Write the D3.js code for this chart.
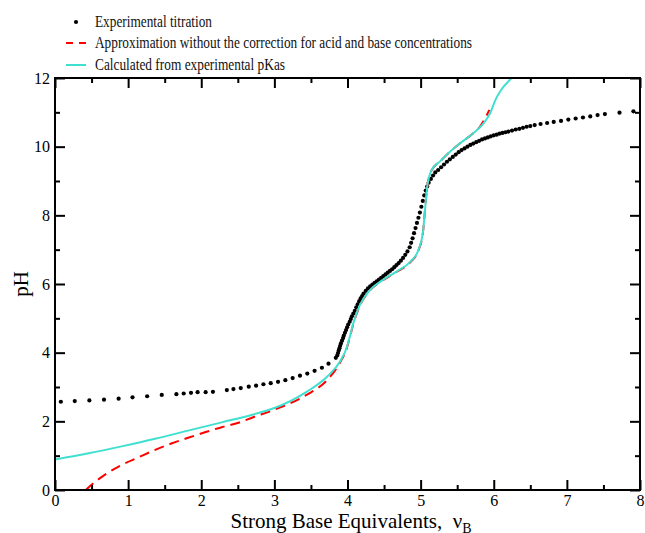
<!DOCTYPE html>
<html>
<head>
<meta charset="utf-8">
<script src="https://cdn.jsdelivr.net/npm/d3@7"></script>
<style>
  body { margin: 0; background: #fff; overflow: hidden; }
  svg { display: block; font-family: "Liberation Serif", "Times New Roman", serif; }
</style>
</head>
<body>
<svg width="645" height="533"></svg>
<script>
// experimental titration points (base equivalents, pH)
var expV = [0.08,0.27,0.47,0.67,0.87,1.06,1.26,1.46,1.66,1.76,1.86,1.95,2.06,2.16,2.35,2.44,2.54,2.65,2.75,2.85,2.95,3.05,3.15,3.25,3.35,3.45,3.55,3.65,3.74,3.84,
  3.86,3.87,3.88,3.89,3.90,3.91,3.925,3.94,3.95,3.965,3.98,3.995,4.01,4.03,4.045,4.06,4.08,4.10,4.12,4.14,4.16,4.18,4.20,4.22,4.25,4.28,4.31,4.34,4.37,4.40,4.43,4.46,4.49,4.52,4.55,4.58,4.61,4.64,4.67,4.70,4.73,4.76,4.79,4.82,4.85,4.87,4.89,4.91,4.93,4.95,4.97,4.99,5.01,5.03,5.05,5.07,5.09,5.11,5.14,5.17,5.20,5.24,5.28,5.32,5.36,5.40,5.44,5.48,5.52,5.56,5.60,5.64,5.68,5.72,5.76,5.80,5.84,5.88,5.92,5.96,6.00,6.04,6.08,6.12,6.16,6.20,6.25,6.30,6.35,6.40,6.45,6.50,6.56,6.64,
  6.73,6.82,6.92,7.02,7.12,7.22,7.32,7.42,7.52,7.72,7.91];
var expPH = [2.57,2.59,2.61,2.63,2.66,2.70,2.73,2.77,2.79,2.81,2.83,2.85,2.85,2.86,2.91,2.94,2.97,3.01,3.04,3.08,3.11,3.15,3.20,3.26,3.33,3.39,3.47,3.56,3.68,3.85,
  3.92,3.99,4.06,4.13,4.20,4.27,4.35,4.43,4.50,4.58,4.66,4.74,4.82,4.90,4.98,5.06,5.14,5.22,5.32,5.41,5.50,5.58,5.65,5.72,5.80,5.87,5.93,5.98,6.03,6.08,6.13,6.18,6.23,6.28,6.33,6.38,6.43,6.49,6.55,6.61,6.68,6.76,6.85,6.95,7.07,7.20,7.33,7.48,7.63,7.78,7.93,8.08,8.25,8.42,8.58,8.72,8.84,8.95,9.06,9.16,9.25,9.32,9.40,9.48,9.56,9.63,9.70,9.77,9.84,9.90,9.95,10.00,10.05,10.09,10.13,10.17,10.21,10.24,10.27,10.30,10.33,10.35,10.38,10.40,10.42,10.44,10.47,10.50,10.52,10.55,10.58,10.60,10.63,10.66,
  10.69,10.72,10.75,10.79,10.82,10.85,10.88,10.92,10.95,10.99,11.03];

// approximation without correction (red dashed)
var approxV = [0.42,0.55,0.68,0.91,1.14,1.37,1.60,1.82,2.05,2.28,2.51,2.71,2.99,3.44,3.72,3.90,3.99,4.03,4.08,4.17,4.31,4.45,4.67,4.86,4.97,5.03,5.06,5.09,5.15,5.27,5.40,5.54,5.72,5.81,5.90,5.94];
var approxPH = [0.0,0.24,0.44,0.73,0.95,1.17,1.36,1.52,1.68,1.83,1.96,2.12,2.33,2.77,3.20,3.72,4.13,4.43,4.84,5.37,5.82,6.06,6.35,6.64,6.98,7.47,8.15,8.82,9.31,9.58,9.85,10.10,10.39,10.58,10.90,11.07];

// calculated from experimental pKas (cyan)
var calcV = [0,0.46,0.91,1.37,1.82,2.28,2.71,2.99,3.44,3.72,3.90,3.99,4.03,4.08,4.17,4.31,4.45,4.67,4.86,4.97,5.03,5.06,5.09,5.15,5.27,5.40,5.54,5.72,5.86,5.95,6.02,6.10,6.20,6.32];
var calcPH = [0.89,1.07,1.27,1.49,1.73,1.97,2.20,2.38,2.86,3.30,3.75,4.15,4.45,4.86,5.39,5.83,6.07,6.36,6.65,6.99,7.48,8.16,8.83,9.32,9.58,9.85,10.10,10.39,10.68,10.97,11.35,11.65,11.90,12.15];

var xMajor = [0,1,2,3,4,5,6,7,8];
var xMinor = [0.5,1.5,2.5,3.5,4.5,5.5,6.5,7.5];
var yMajor = [0,2,4,6,8,10,12];
var yMinor = [1,3,5,7,9,11];

var legendLabels = ["Experimental titration",
  "Approximation without the correction for acid and base concentrations",
  "Calculated from experimental pKas"];

var svg = d3.select('svg');
var pLeft = 55, pRight = 640, pTop = 78, pBottom = 490;

var x = d3.scaleLinear().domain([0, 8]).range([pLeft, pRight]);
var y = d3.scaleLinear().domain([0, 12]).range([pBottom, pTop]);

svg.append('defs').append('clipPath').attr('id', 'plotclip')
  .append('rect').attr('x', pLeft).attr('y', pTop).attr('width', pRight - pLeft).attr('height', pBottom - pTop);

var plot = svg.append('g').attr('clip-path', 'url(#plotclip)');

var line = d3.line()
  .x(function(d) { return x(d[0]); })
  .y(function(d) { return y(d[1]); })
  .curve(d3.curveMonotoneX);

var expData = expV.map(function(v, i) { return [v, expPH[i]]; });
var approxData = approxV.map(function(v, i) { return [v, approxPH[i]]; });
var calcData = calcV.map(function(v, i) { return [v, calcPH[i]]; });

plot.selectAll('circle')
  .data(expData)
  .enter()
  .append('circle')
  .attr('cx', function(d) { return x(d[0]); })
  .attr('cy', function(d) { return y(d[1]); })
  .attr('r', 2.1)
  .attr('fill', 'black');

plot.append('path')
  .datum(approxData)
  .attr('d', line)
  .attr('fill', 'none')
  .attr('stroke', '#ff0000')
  .attr('stroke-width', 2)
  .attr('stroke-dasharray', '10,6');

plot.append('path')
  .datum(calcData)
  .attr('d', line)
  .attr('fill', 'none')
  .attr('stroke', '#40e0d0')
  .attr('stroke-width', 2);

// axes, ticks pointing inward
function styleAxis(g) {
  g.select('.domain').remove();
  g.selectAll('.tick line').attr('stroke', 'black').attr('stroke-width', 2);
  g.selectAll('.tick text').attr('fill', 'black')
    .style('font-family', '"Liberation Serif", "Times New Roman", serif')
    .style('font-size', '16px');
}

svg.append('g').attr('transform', 'translate(0,' + pBottom + ')')
  .call(d3.axisBottom(x).tickValues(xMajor).tickSize(-10).tickPadding(5).tickFormat(d3.format('d')))
  .call(styleAxis);
svg.append('g').attr('transform', 'translate(0,' + pBottom + ')')
  .call(d3.axisBottom(x).tickValues(xMinor).tickSize(-5).tickFormat(''))
  .call(styleAxis);
svg.append('g').attr('transform', 'translate(0,' + pTop + ')')
  .call(d3.axisTop(x).tickValues(xMajor).tickSize(-10).tickFormat(''))
  .call(styleAxis);
svg.append('g').attr('transform', 'translate(0,' + pTop + ')')
  .call(d3.axisTop(x).tickValues(xMinor).tickSize(-5).tickFormat(''))
  .call(styleAxis);

svg.append('g').attr('transform', 'translate(' + pLeft + ',0)')
  .call(d3.axisLeft(y).tickValues(yMajor).tickSize(-10).tickPadding(5).tickFormat(d3.format('d')))
  .call(styleAxis);
svg.append('g').attr('transform', 'translate(' + pLeft + ',0)')
  .call(d3.axisLeft(y).tickValues(yMinor).tickSize(-5).tickFormat(''))
  .call(styleAxis);
svg.append('g').attr('transform', 'translate(' + pRight + ',0)')
  .call(d3.axisRight(y).tickValues(yMajor).tickSize(-10).tickFormat(''))
  .call(styleAxis);
svg.append('g').attr('transform', 'translate(' + pRight + ',0)')
  .call(d3.axisRight(y).tickValues(yMinor).tickSize(-5).tickFormat(''))
  .call(styleAxis);

svg.append('rect')
  .attr('x', pLeft).attr('y', pTop)
  .attr('width', pRight - pLeft).attr('height', pBottom - pTop)
  .attr('fill', 'none').attr('stroke', 'black').attr('stroke-width', 2);

// axis titles
var xt = svg.append('text')
  .attr('x', 351).attr('y', 528)
  .attr('text-anchor', 'middle')
  .style('font-size', '21px')
  .attr('xml:space', 'preserve');
xt.append('tspan').text('Strong Base Equivalents,  \u03bd');
xt.append('tspan').attr('dy', 5).style('font-size', '14px').text('B');

svg.append('text')
  .attr('transform', 'translate(28,284) rotate(-90)')
  .attr('text-anchor', 'middle')
  .style('font-size', '21px')
  .text('pH');

// legend
var legendY = [22, 43, 65];
var legendW = [117, 377, 190];
var legend = svg.append('g');
legend.append('circle').attr('cx', 76).attr('cy', legendY[0]).attr('r', 2.1).attr('fill', 'black');
legend.append('line').attr('x1', 66).attr('x2', 86).attr('y1', legendY[1]).attr('y2', legendY[1])
  .attr('stroke', '#ff0000').attr('stroke-width', 2).attr('stroke-dasharray', '7,6');
legend.append('line').attr('x1', 66).attr('x2', 86).attr('y1', legendY[2]).attr('y2', legendY[2])
  .attr('stroke', '#40e0d0').attr('stroke-width', 2);
legend.selectAll('text.lab')
  .data(legendLabels)
  .enter()
  .append('text')
  .attr('class', 'lab')
  .attr('x', 95)
  .attr('y', function(d, i) { return legendY[i] + 5; })
  .attr('textLength', function(d, i) { return legendW[i]; })
  .attr('lengthAdjust', 'spacingAndGlyphs')
  .attr('fill', '#111')
  .style('font-size', '16.5px')
  .text(function(d) { return d; });
</script>
</body>
</html>
